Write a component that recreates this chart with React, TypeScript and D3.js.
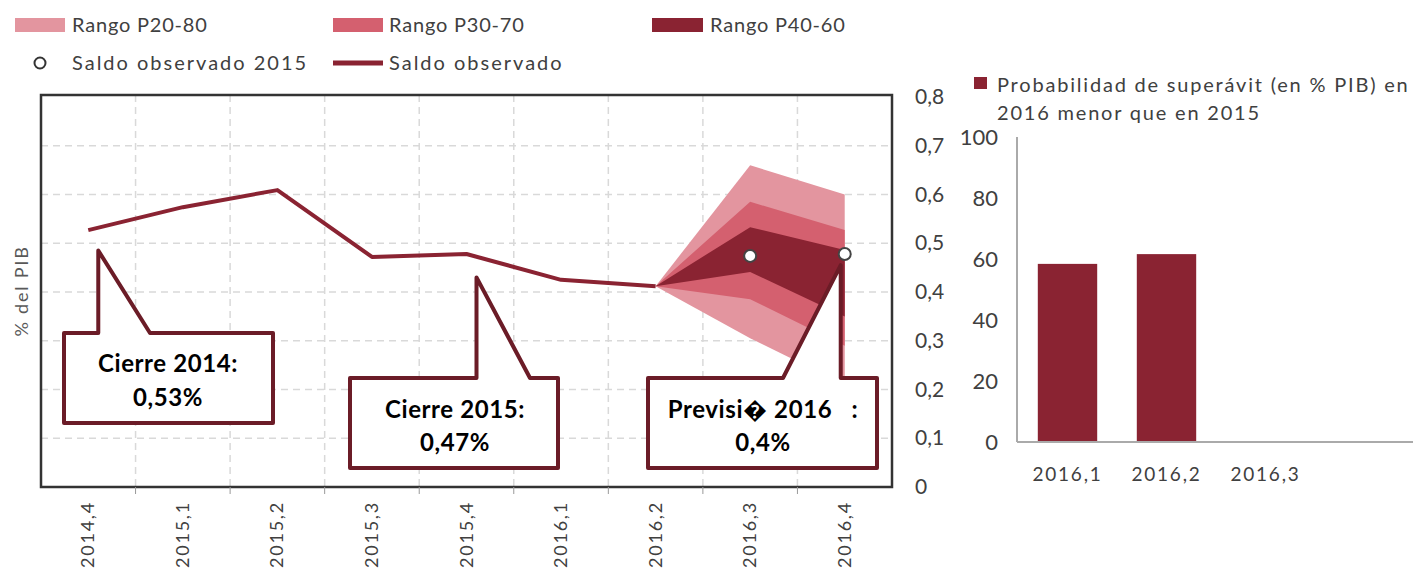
import React from "react";
import * as d3 from "d3";

const quarters = ["2014,4", "2015,1", "2015,2", "2015,3", "2015,4", "2016,1", "2016,2", "2016,3", "2016,4"];
const saldoObservado = [0.527, 0.574, 0.609, 0.472, 0.478, 0.425, 0.412];
const fanQuarters = ["2016,2", "2016,3", "2016,4"];
const p20 = [0.412, 0.305, 0.21];
const p30 = [0.412, 0.385, 0.29];
const p40 = [0.412, 0.441, 0.35];
const p60 = [0.412, 0.533, 0.486];
const p70 = [0.412, 0.585, 0.527];
const p80 = [0.412, 0.66, 0.6];
const obs2015Quarters = ["2016,3", "2016,4"];
const obs2015Values = [0.474, 0.478];
const leftTicks = [0, 0.1, 0.2, 0.3, 0.4, 0.5, 0.6, 0.7, 0.8];

const probQuarters = ["2016,1", "2016,2", "2016,3"];
const probValues = [58.4, 61.6, 0];
const probTicks = [0, 20, 40, 60, 80, 100];

const C_LIGHT = "#e3959f";
const C_MED = "#d4606f";
const C_DARK = "#8a2332";
const C_CALLOUT = "#6b1c27";
const TXT = "#404040";
const FONT = "Lato, 'Open Sans', sans-serif";

export default function App() {
  const x = d3.scaleBand<string>().domain(quarters).range([41, 892]);
  const xc = (q: string) => (x(q) as number) + x.bandwidth() / 2;
  const y = d3.scaleLinear().domain([0, 0.8]).range([487, 97]);

  const line = d3
    .line<number>()
    .x((_, i) => xc(quarters[i]))
    .y((d) => y(d));

  const band = (lo: number[], hi: number[]) =>
    d3
      .area<number>()
      .x((_, i) => xc(fanQuarters[i]))
      .y0((_, i) => y(lo[i]))
      .y1((_, i) => y(hi[i]))(lo) as string;

  const xb = d3.scaleBand<string>().domain(probQuarters).range([1018, 1315]).paddingInner(0.4).paddingOuter(0.2);
  const yb = d3.scaleLinear().domain([0, 100]).range([442, 137]);

  const fmt = (v: number) => String(v).replace(".", ",");

  const callout = (
    bx0: number, by0: number, bx1: number, by1: number,
    baseL: number, baseR: number, tipX: number, tipY: number
  ) =>
    `M${bx0},${by0} L${baseL},${by0} L${tipX},${tipY} L${baseR},${by0} L${bx1},${by0} L${bx1},${by1} L${bx0},${by1} Z`;

  const tip1x = xc("2014,4") + 10;
  const tip2x = xc("2015,4") + 10;
  const tip3x = xc("2016,4") - 4;

  return (
    <svg
      width={1413}
      height={574}
      style={{ position: "absolute", left: 0, top: 0, background: "#fff" }}
      fontFamily={FONT}
    >
      {/* Legend */}
      <g fontSize={20} fill={TXT}>
        <g letterSpacing={0.8}>
          <rect x={15} y={18} width={50} height={14} fill={C_LIGHT} />
          <text x={72} y={32}>Rango P20-80</text>
          <rect x={333} y={18} width={50} height={14} fill={C_MED} />
          <text x={389} y={32}>Rango P30-70</text>
          <rect x={652} y={18} width={51} height={14} fill={C_DARK} />
          <text x={710} y={32}>Rango P40-60</text>
        </g>
        <g letterSpacing={2}>
          <circle cx={40} cy={63} r={5.5} fill="#fff" stroke="#333" strokeWidth={2} />
          <text x={72} y={70}>Saldo observado 2015</text>
          <line x1={333} x2={383} y1={63} y2={63} stroke={C_DARK} strokeWidth={5} />
          <text x={389} y={70}>Saldo observado</text>
        </g>
      </g>

      {/* Grid */}
      <g stroke="#d9d9d9" strokeWidth={1.5} strokeDasharray="7,5">
        {leftTicks.slice(1, -1).map((t) => (
          <line key={"h" + t} x1={41} x2={892} y1={y(t)} y2={y(t)} />
        ))}
        {quarters.slice(1).map((q) => (
          <line key={"v" + q} x1={x(q) as number} x2={x(q) as number} y1={95} y2={487} />
        ))}
      </g>

      {/* Fan */}
      <path d={band(p20, p80)} fill={C_LIGHT} />
      <path d={band(p30, p70)} fill={C_MED} />
      <path d={band(p40, p60)} fill={C_DARK} />

      {/* Line */}
      <path d={line(saldoObservado) as string} fill="none" stroke={C_DARK} strokeWidth={4} strokeLinejoin="round" />

      {/* Observed 2015 points */}
      {obs2015Quarters.map((q, i) => (
        <circle key={q} cx={xc(q)} cy={y(obs2015Values[i])} r={6} fill="#fff" stroke="#444" strokeWidth={2} />
      ))}

      {/* Callouts */}
      <g fill="#fff" stroke={C_CALLOUT} strokeWidth={4} strokeLinejoin="round">
        <path d={callout(64, 333, 273, 423, tip1x, 150, tip1x, y(0.485))} />
        <path d={callout(350, 378, 558, 468, tip2x, 530, tip2x, y(0.43))} />
        <path d={callout(648, 378, 877, 468, 783, tip3x, tip3x, y(0.455))} />
      </g>
      <g fontSize={24} fontWeight="bold" fill="#000" textAnchor="middle" fontFamily="Lato, 'Open Sans', sans-serif" letterSpacing={0.6}>
        <text x={168} y={372}>Cierre 2014:</text>
        <text x={168} y={406}>0,53%</text>
        <text x={455} y={418}>Cierre 2015:</text>
        <text x={455} y={451}>0,47%</text>
        <text x={763} y={418} style={{ whiteSpace: "pre" }}>{"Previsi\uFFFD 2016   :"}</text>
        <text x={763} y={451}>0,4%</text>
      </g>

      {/* Plot border */}
      <rect x={41} y={95} width={851} height={392} fill="none" stroke="#333" strokeWidth={2.5} />

      {/* Bottom tick marks */}
      <g stroke="#999" strokeWidth={1}>
        {quarters.slice(1).map((q) => (
          <line key={"t" + q} x1={x(q) as number} x2={x(q) as number} y1={487} y2={494} />
        ))}
      </g>

      {/* Y axis label */}
      <text transform="translate(28,291) rotate(-90)" textAnchor="middle" fontSize={18} fill="#595959" letterSpacing={1.8}>
        % del PIB
      </text>

      {/* X labels */}
      <g fontSize={18} fill={TXT} letterSpacing={1.8}>
        {quarters.map((q) => (
          <text key={q} transform={`translate(${xc(q) + 6},501) rotate(-90)`} textAnchor="end">
            {q}
          </text>
        ))}
      </g>

      {/* Right axis of left chart */}
      <g fontSize={21} fill={TXT}>
        {leftTicks.map((t) => (
          <text key={t} x={915} y={y(t) + 7}>
            {fmt(t)}
          </text>
        ))}
      </g>

      {/* Bar chart */}
      <rect x={974} y={77} width={13} height={12} fill={C_DARK} />
      <g fontSize={20} fill={TXT} letterSpacing={1.8}>
        <text x={997} y={92}>Probabilidad de superávit (en % PIB) en</text>
        <text x={997} y={120}>2016 menor que en 2015</text>
      </g>
      {probQuarters.map((q, i) =>
        probValues[i] > 0 ? (
          <rect key={q} x={xb(q) as number} y={yb(probValues[i])} width={xb.bandwidth()} height={yb(0) - yb(probValues[i])} fill={C_DARK} />
        ) : null
      )}
      <line x1={1017} x2={1017} y1={yb(100)} y2={yb(0)} stroke="#aaa" strokeWidth={2} />
      <line x1={1017} x2={1413} y1={yb(0)} y2={yb(0)} stroke="#aaa" strokeWidth={2} />
      <g fontSize={22} fill={TXT} textAnchor="end">
        {probTicks.map((t) => (
          <text key={t} x={998} y={yb(t) + 8}>
            {t}
          </text>
        ))}
      </g>
      <g fontSize={19} fill={TXT} textAnchor="middle" letterSpacing={1.8}>
        {probQuarters.map((q) => (
          <text key={q} x={(xb(q) as number) + xb.bandwidth() / 2} y={481}>
            {q}
          </text>
        ))}
      </g>
    </svg>
  );
}
